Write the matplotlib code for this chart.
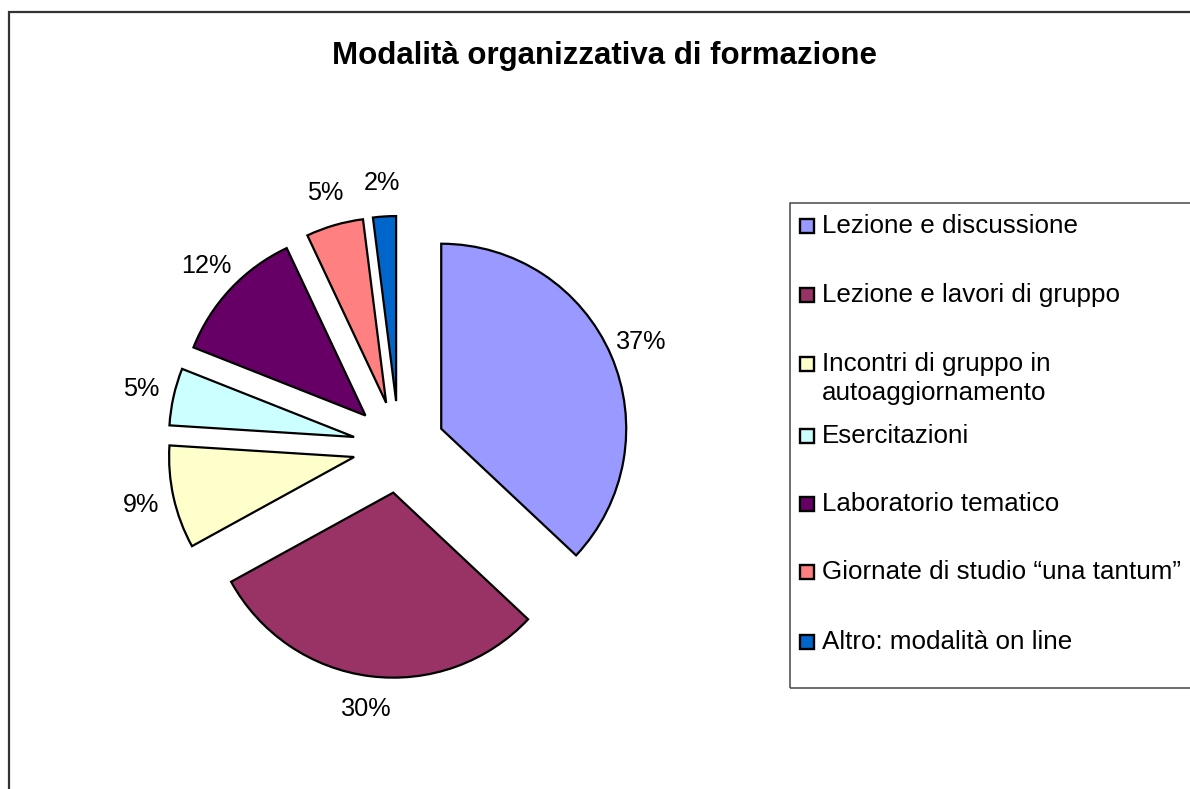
import matplotlib
matplotlib.use("Agg")
import matplotlib.pyplot as plt
from matplotlib.patches import Rectangle

# ---- data ----
categories = [
    "Lezione e discussione",
    "Lezione e lavori di gruppo",
    "Incontri di gruppo in\nautoaggiornamento",
    "Esercitazioni",
    "Laboratorio tematico",
    "Giornate di studio \u201cuna tantum\u201d",
    "Altro: modalit\u00e0 on line",
]
values = [37, 30, 9, 5, 12, 5, 2]
colors = ["#9999FF", "#993366", "#FFFFCC", "#CCFFFF", "#660066", "#FF8080", "#0066CC"]
title = "Modalit\u00e0 organizzativa di formazione"

W, H = 1190, 789
plt.rcParams['font.family'] = ['Liberation Sans', 'DejaVu Sans']

fig = plt.figure(figsize=(W / 100, H / 100), dpi=100)
ax = fig.add_axes([0, 0, 1, 1])

def Y(py):
    return H - py

# pie
cx, cy, r = 399, 447, 185
explode_px = 46
wedges, _, autotexts = ax.pie(
    values, colors=colors, startangle=90, counterclock=False,
    center=(cx, Y(cy)), radius=r, explode=[explode_px] * len(values),
    autopct='%1.0f%%', pctdistance=1.18,
    wedgeprops=dict(edgecolor='black', linewidth=1.6, joinstyle='miter'),
    textprops=dict(fontsize=18.2, color='black'), frame=True)
ax.set_xlim(0, W)
ax.set_ylim(0, H)
ax.set_aspect('equal')
ax.axis('off')

# outer chart frame (only left and top visible)
ax.plot([9, 9, W + 5], [Y(H + 5), Y(12), Y(12)], color="#333333", lw=1.6,
        solid_joinstyle='miter', clip_on=False)

# title
ax.text(605, Y(56), title, ha='center', va='center', fontsize=22.5, fontweight='bold')

# legend box
ax.add_patch(Rectangle((790, Y(688)), 420, 688 - 203, facecolor='none',
                       edgecolor='#555555', lw=1.2, clip_on=False))
row_centers = [225, 294, 363, 435, 503, 571, 641]
for lab, col, yc in zip(categories, colors, row_centers):
    ax.add_patch(Rectangle((799.5, Y(yc + 7.5)), 14, 14, facecolor=col,
                           edgecolor='black', lw=1.7))
    for i, line in enumerate(lab.split("\n")):
        ax.text(822, Y(yc + 8 + 29 * i), line, ha='left', va='baseline',
                fontsize=18.7, color='black')

fig.savefig("out.png", dpi=100)
